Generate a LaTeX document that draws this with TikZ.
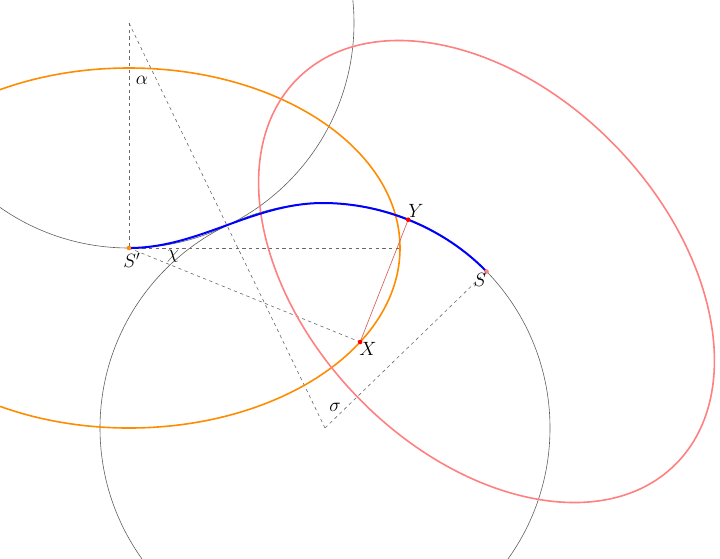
\documentclass[tikz,border=0pt]{standalone}
\usetikzlibrary{calc}
\definecolor{circgray}{RGB}{95,95,95}
\definecolor{dashgray}{RGB}{105,105,105}
\definecolor{orangec}{RGB}{255,140,0}
\definecolor{pinkc}{RGB}{255,128,128}
\definecolor{bluec}{RGB}{0,0,255}
\definecolor{redl}{RGB}{215,95,95}
\tikzset{
  thincirc/.style={draw=circgray, line width=0.45pt},
  dashline/.style={draw=dashgray, line width=0.45pt, dash pattern=on 2.5pt off 2.5pt},
  orangeline/.style={draw=orangec, line width=1.2pt},
  pinkline/.style={draw=pinkc, line width=1.2pt},
  blueline/.style={draw=bluec, line width=1.5pt},
  redline/.style={draw=redl, line width=0.5pt},
  lab/.style={inner sep=0pt, font=\fontsize{14.5}{16}\selectfont},
}
\begin{document}
\begin{tikzpicture}[x=0.75pt,y=-0.75pt]
\useasboundingbox (0,0) rectangle (720,558);
\clip (0,0) rectangle (720,558);
\coordinate (A) at (129,23);
\coordinate (Sp) at (129,248);
\coordinate (C) at (325,428);
\coordinate (S) at (486.5,271.5);
\coordinate (X) at (360.1,342);
\coordinate (H) at (400,248);
\coordinate (P) at (323,203);
% black circles
\draw[thincirc] (A) circle[radius=225];
\draw[thincirc] (C) circle[radius=225];
% dashed construction lines
\draw[dashline] (A) -- (Sp);
\draw[dashline] (A) -- (C);
\draw[dashline] (C) -- (S);
\draw[dashline] (Sp) -- (H);
\draw[dashline] (Sp) -- (X);
% ellipses
\draw[orangeline] (Sp) ellipse[x radius=271, y radius=180];
\draw[pinkline, rotate around={-46:(S)}] (S) ellipse[x radius=270, y radius=180];
% blue transition curve
\draw[blueline] (Sp) .. controls (199,248) and (253,203) .. (P)
  .. controls (383,203) and (444.7,228.4) .. (S) coordinate[pos=0.48] (Y);
% red segment
\draw[redline] (X) -- (Y);
% dots
\fill[orangec] (Sp) circle[radius=2.3];
\fill[red] (X) circle[radius=2.3];
\fill[red] (Y) circle[radius=2.3];
\fill[pinkc] (S) circle[radius=2.3];
% labels
\node[lab] (la) at (142,80) {$\alpha$};
\node[lab] (ls) at (335,407) {$\sigma$};
\node[lab] (lc) at (173,256) {$\chi$};
\node[lab] (lSp) at (132,260) {$S'$};
\node[lab] (lX) at (368,349) {$X$};
\node[lab] (lY) at (416,211) {$Y$};
\node[lab] (lS) at (480,280) {$S$};
\end{tikzpicture}
\end{document}
